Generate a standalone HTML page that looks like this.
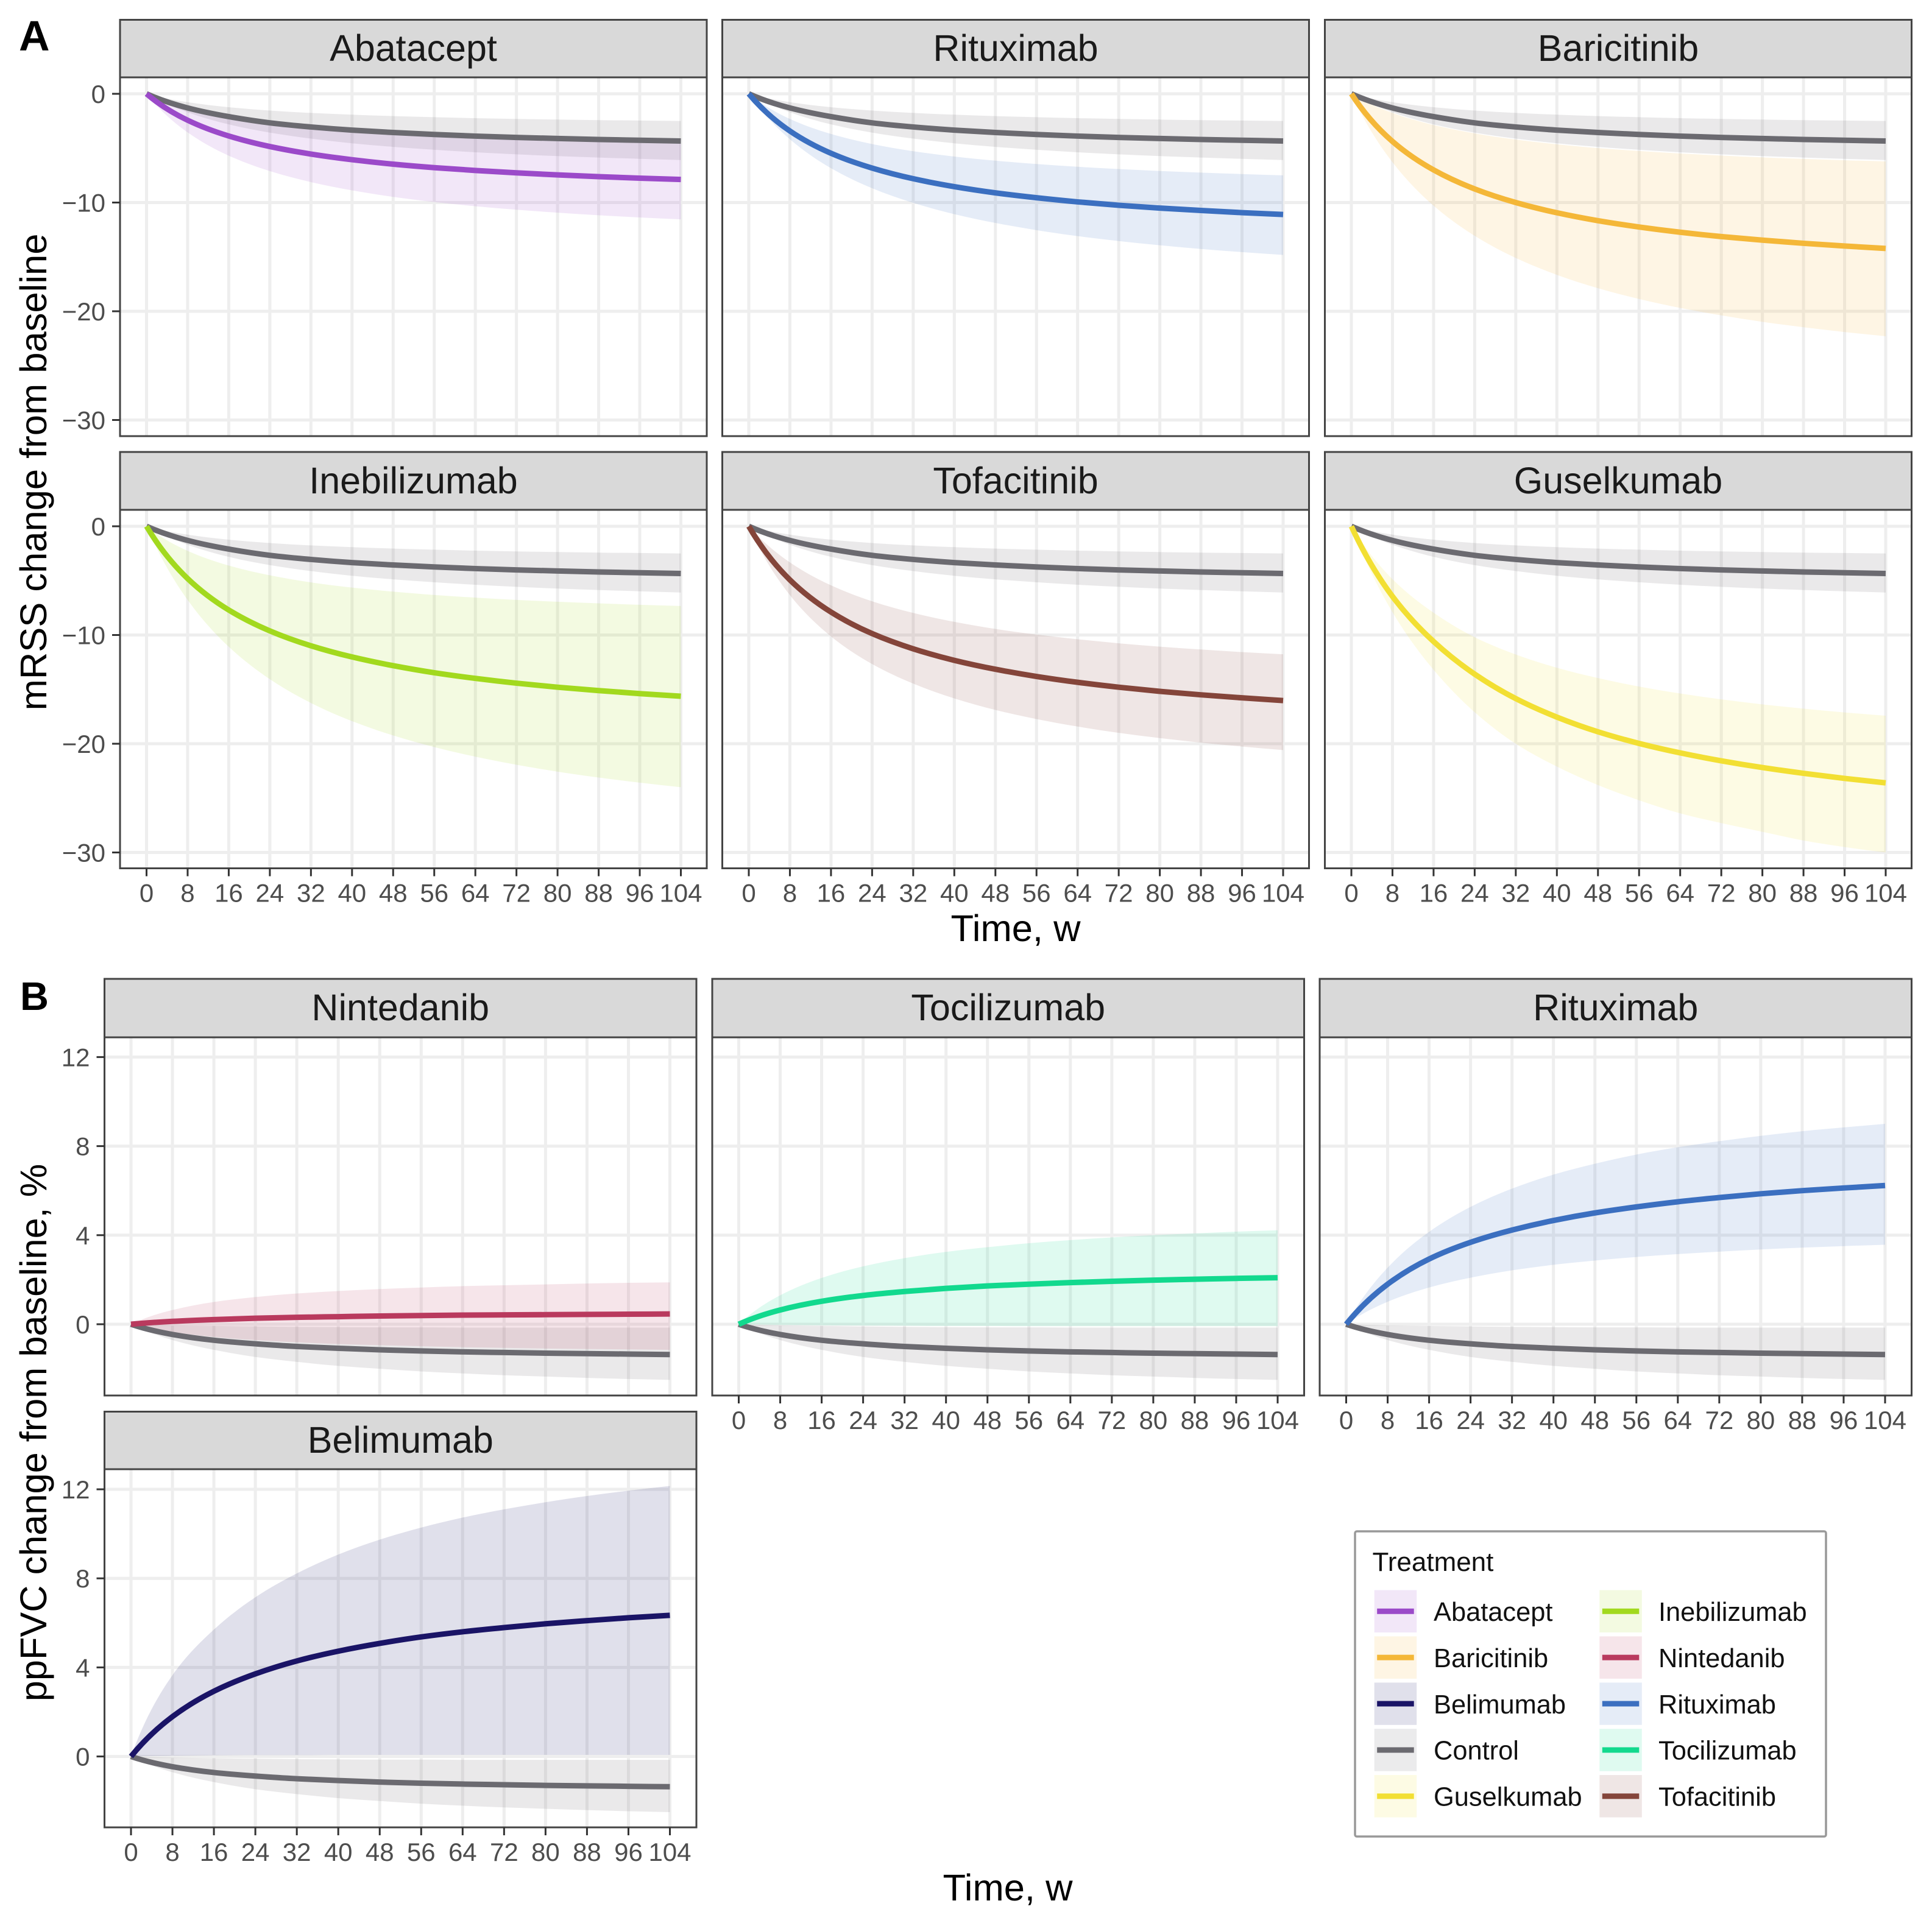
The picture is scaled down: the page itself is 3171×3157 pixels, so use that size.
<!DOCTYPE html>
<html lang="en">
<head>
<meta charset="utf-8">
<title>mRSS and ppFVC change from baseline</title>
<style>
html,body{margin:0;padding:0;background:#fff;}
svg{display:block;font-family:"Liberation Sans",Arial,sans-serif;}
</style>
</head>
<body>
<svg id="chart" xmlns="http://www.w3.org/2000/svg" width="3171" height="3157" viewBox="0 0 3171 3157">
<rect width="3171" height="3157" fill="#ffffff"/>
<text x="31" y="83" font-size="70" font-weight="700" fill="#000">A</text>
<text x="33" y="1658" font-size="65" font-weight="700" fill="#000">B</text>
<text transform="translate(76,775) rotate(-90)" text-anchor="middle" font-size="61.5" fill="#000">mRSS change from baseline</text>
<text transform="translate(76,2352) rotate(-90)" text-anchor="middle" font-size="61.3" fill="#000">ppFVC change from baseline, %</text>
<text x="1667" y="1545" text-anchor="middle" font-size="61.5" fill="#000">Time, w</text>
<text x="1654" y="3120" text-anchor="middle" font-size="61.5" fill="#000">Time, w</text>
</svg>
<script>
// ---------- shared axis data ----------
const weeks = [0, 8, 16, 24, 32, 40, 48, 56, 64, 72, 80, 88, 96, 104];
const mrssTicks = [0, -10, -20, -30];
const ppfvcTicks = [0, 4, 8, 12];

// ---------- mRSS series (change from baseline, read at each week tick) ----------
const controlMrssMean = [0, -1.3, -2.1, -2.67, -3.05, -3.34, -3.56, -3.74, -3.89, -4.01, -4.11, -4.2, -4.27, -4.34];
const controlMrssUpper = [0, -0.77, -1.23, -1.54, -1.76, -1.92, -2.05, -2.15, -2.24, -2.31, -2.37, -2.42, -2.46, -2.5];
const controlMrssLower = [0, -1.7, -2.81, -3.57, -4.12, -4.55, -4.88, -5.15, -5.38, -5.57, -5.73, -5.86, -5.98, -6.09];

const abataceptMean = [0, -2.43, -3.88, -4.85, -5.54, -6.06, -6.47, -6.79, -7.05, -7.27, -7.46, -7.62, -7.76, -7.88];
const abataceptUpper = [0, -1.29, -2.07, -2.59, -2.95, -3.23, -3.45, -3.62, -3.76, -3.88, -3.98, -4.06, -4.14, -4.2];
const abataceptLower = [0, -3.55, -5.69, -7.11, -8.12, -8.88, -9.48, -9.95, -10.34, -10.66, -10.93, -11.17, -11.37, -11.55];

const rituximabMrssMean = [0, -3.42, -5.47, -6.83, -7.81, -8.54, -9.11, -9.56, -9.94, -10.25, -10.51, -10.73, -10.93, -11.1];
const rituximabMrssUpper = [0, -2.31, -3.69, -4.62, -5.28, -5.77, -6.15, -6.46, -6.71, -6.92, -7.1, -7.25, -7.38, -7.5];
const rituximabMrssLower = [0, -4.18, -6.84, -8.68, -10.03, -11.07, -11.88, -12.54, -13.09, -13.54, -13.93, -14.27, -14.56, -14.82];

const baricitinibMean = [0, -4.38, -7.0, -8.75, -10.0, -10.94, -11.67, -12.25, -12.73, -13.13, -13.46, -13.75, -14.0, -14.22];
const baricitinibUpper = [0, -1.76, -2.87, -3.64, -4.21, -4.64, -4.99, -5.26, -5.49, -5.68, -5.85, -5.99, -6.11, -6.22];
const baricitinibLower = [0, -6.29, -10.29, -13.06, -15.1, -16.65, -17.88, -18.87, -19.69, -20.38, -20.97, -21.47, -21.91, -22.3];

const inebilizumabMean = [0, -4.81, -7.7, -9.62, -10.99, -12.02, -12.82, -13.47, -13.99, -14.43, -14.8, -15.11, -15.39, -15.63];
const inebilizumabUpper = [0, -2.26, -3.61, -4.51, -5.16, -5.64, -6.01, -6.32, -6.56, -6.77, -6.94, -7.09, -7.22, -7.33];
const inebilizumabLower = [0, -6.77, -11.08, -14.06, -16.25, -17.92, -19.24, -20.31, -21.19, -21.93, -22.57, -23.11, -23.58, -24.0];

const tofacitinibMean = [0, -4.93, -7.89, -9.87, -11.27, -12.33, -13.15, -13.81, -14.35, -14.8, -15.18, -15.5, -15.78, -16.03];
const tofacitinibUpper = [0, -3.32, -5.43, -6.9, -7.97, -8.79, -9.44, -9.96, -10.39, -10.76, -11.07, -11.33, -11.57, -11.77];
const tofacitinibLower = [0, -6.33, -10.13, -12.67, -14.47, -15.83, -16.89, -17.73, -18.42, -19.0, -19.48, -19.9, -20.26, -20.58];

const guselkumabMean = [0, -6.45, -10.6, -13.6, -15.85, -17.55, -18.9, -19.97, -20.84, -21.57, -22.19, -22.72, -23.19, -23.6];
const guselkumabUpper = [0, -4.86, -7.95, -10.2, -11.79, -13.01, -13.96, -14.74, -15.38, -15.92, -16.38, -16.77, -17.12, -17.42];
const guselkumabLower = [0, -7.9, -13.2, -17.1, -20.0, -22.1, -23.8, -25.2, -26.4, -27.3, -28.1, -28.9, -29.5, -30.0];

// ---------- ppFVC series (change from baseline, %, read at each week tick) ----------
const controlFvcMean = [0, -0.46, -0.72, -0.88, -1.0, -1.08, -1.15, -1.2, -1.24, -1.27, -1.3, -1.32, -1.34, -1.36];
const controlFvcUpper = [0, -0.05, -0.08, -0.1, -0.12, -0.13, -0.14, -0.14, -0.15, -0.15, -0.15, -0.15, -0.15, -0.15];
const controlFvcLower = [0, -0.71, -1.15, -1.47, -1.69, -1.87, -2.0, -2.12, -2.21, -2.29, -2.35, -2.41, -2.46, -2.5];

const nintedanibMean = [0, 0.13, 0.21, 0.27, 0.31, 0.34, 0.37, 0.39, 0.41, 0.42, 0.43, 0.44, 0.45, 0.46];
const nintedanibUpper = [0, 0.64, 1.0, 1.22, 1.38, 1.49, 1.58, 1.65, 1.71, 1.75, 1.79, 1.83, 1.86, 1.88];
const nintedanibLower = [0, -0.35, -0.57, -0.71, -0.81, -0.89, -0.94, -0.99, -1.03, -1.06, -1.09, -1.11, -1.13, -1.15];

const tocilizumabMean = [0, 0.64, 1.03, 1.29, 1.47, 1.61, 1.72, 1.8, 1.87, 1.93, 1.98, 2.02, 2.06, 2.09];
const tocilizumabUpper = [0, 1.3, 2.08, 2.6, 2.97, 3.25, 3.46, 3.64, 3.78, 3.9, 4.0, 4.08, 4.16, 4.22];
const tocilizumabLower = [0, -0.03, -0.05, -0.06, -0.07, -0.08, -0.08, -0.09, -0.09, -0.09, -0.09, -0.09, -0.09, -0.09];

const rituximabFvcMean = [0, 1.8, 2.93, 3.68, 4.23, 4.66, 5.0, 5.27, 5.5, 5.69, 5.86, 6.0, 6.12, 6.23];
const rituximabFvcUpper = [0, 2.54, 4.15, 5.27, 6.09, 6.72, 7.21, 7.62, 7.95, 8.22, 8.46, 8.67, 8.84, 9.0];
const rituximabFvcLower = [0, 1.01, 1.65, 2.09, 2.42, 2.67, 2.86, 3.02, 3.15, 3.26, 3.36, 3.44, 3.51, 3.57];

const belimumabMean = [0, 1.79, 2.93, 3.71, 4.29, 4.73, 5.08, 5.37, 5.6, 5.79, 5.96, 6.1, 6.23, 6.34];
const belimumabUpper = [0, 3.65, 5.7, 7.15, 8.22, 9.07, 9.74, 10.28, 10.73, 11.1, 11.42, 11.7, 11.94, 12.15];
const belimumabLower = [0, 0.03, 0.05, 0.06, 0.06, 0.07, 0.07, 0.07, 0.07, 0.07, 0.07, 0.07, 0.07, 0.07];

// ---------- legend entries ----------
const legendColumnOne = ["Abatacept", "Baricitinib", "Belimumab", "Control", "Guselkumab"];
const legendColumnTwo = ["Inebilizumab", "Nintedanib", "Rituximab", "Tocilizumab", "Tofacitinib"];

// ---------- styling and layout (not data) ----------
const treatmentColors = {
  Abatacept: "#9B4AC9", Baricitinib: "#F4B738", Belimumab: "#1A1466", Control: "#6B6A70",
  Guselkumab: "#F2DF33", Inebilizumab: "#A2D91E", Nintedanib: "#B93A5E", Rituximab: "#3B6FC0",
  Tocilizumab: "#12D98E", Tofacitinib: "#84453A"
};
const layoutA = { width: 963, x0: 43.5, x104: 920.5, unit: 17.85 };
const layoutB = { width: 971.5, x0: 43.5, x104: 928, unit: 36.55 };
const rowA1 = { stripTop: 32.5, stripBottom: 127, bottom: 716, zero: 154, textY: 100 };
const rowA2 = { stripTop: 742, stripBottom: 837, bottom: 1425.5, zero: 864, textY: 810 };
const rowB1 = { stripTop: 1607, stripBottom: 1703, bottom: 2291, zero: 2174, textY: 1675 };
const rowB2 = { stripTop: 2317.5, stripBottom: 2412, bottom: 3000, zero: 2883.6, textY: 2385 };

const controlMrss = { mean: controlMrssMean, upper: controlMrssUpper, lower: controlMrssLower };
const controlFvc = { mean: controlFvcMean, upper: controlFvcUpper, lower: controlFvcLower };

const panels = [
  { title: "Abatacept", treatment: "Abatacept", left: 197, row: rowA1, layout: layoutA, ticks: mrssTicks, showY: true, showX: false, control: controlMrss, mean: abataceptMean, upper: abataceptUpper, lower: abataceptLower },
  { title: "Rituximab", treatment: "Rituximab", left: 1185.5, row: rowA1, layout: layoutA, ticks: mrssTicks, showY: false, showX: false, control: controlMrss, mean: rituximabMrssMean, upper: rituximabMrssUpper, lower: rituximabMrssLower },
  { title: "Baricitinib", treatment: "Baricitinib", left: 2174.5, row: rowA1, layout: layoutA, ticks: mrssTicks, showY: false, showX: false, control: controlMrss, mean: baricitinibMean, upper: baricitinibUpper, lower: baricitinibLower },
  { title: "Inebilizumab", treatment: "Inebilizumab", left: 197, row: rowA2, layout: layoutA, ticks: mrssTicks, showY: true, showX: true, control: controlMrss, mean: inebilizumabMean, upper: inebilizumabUpper, lower: inebilizumabLower },
  { title: "Tofacitinib", treatment: "Tofacitinib", left: 1185.5, row: rowA2, layout: layoutA, ticks: mrssTicks, showY: false, showX: true, control: controlMrss, mean: tofacitinibMean, upper: tofacitinibUpper, lower: tofacitinibLower },
  { title: "Guselkumab", treatment: "Guselkumab", left: 2174.5, row: rowA2, layout: layoutA, ticks: mrssTicks, showY: false, showX: true, control: controlMrss, mean: guselkumabMean, upper: guselkumabUpper, lower: guselkumabLower },
  { title: "Nintedanib", treatment: "Nintedanib", left: 171.5, row: rowB1, layout: layoutB, ticks: ppfvcTicks, showY: true, showX: false, control: controlFvc, mean: nintedanibMean, upper: nintedanibUpper, lower: nintedanibLower },
  { title: "Tocilizumab", treatment: "Tocilizumab", left: 1169, row: rowB1, layout: layoutB, ticks: ppfvcTicks, showY: false, showX: true, control: controlFvc, mean: tocilizumabMean, upper: tocilizumabUpper, lower: tocilizumabLower },
  { title: "Rituximab", treatment: "Rituximab", left: 2166, row: rowB1, layout: layoutB, ticks: ppfvcTicks, showY: false, showX: true, control: controlFvc, mean: rituximabFvcMean, upper: rituximabFvcUpper, lower: rituximabFvcLower },
  { title: "Belimumab", treatment: "Belimumab", left: 171.5, row: rowB2, layout: layoutB, ticks: ppfvcTicks, showY: true, showX: true, control: controlFvc, mean: belimumabMean, upper: belimumabUpper, lower: belimumabLower }
];

// ---------- drawing ----------
const NS = "http://www.w3.org/2000/svg";
const svg = document.getElementById("chart");

function add(parent, tag, attrs, text) {
  const el = document.createElementNS(NS, tag);
  for (const k in attrs) el.setAttribute(k, attrs[k]);
  if (text !== undefined) el.textContent = text;
  parent.appendChild(el);
  return el;
}

function slug(s) {
  return String(s).toLowerCase().replace(/[^a-z0-9]+/g, "-");
}

// Harmonic-mean tangents keep saturating curves free of kinks near the origin.
function endTangent(dOuter, dInner, mInner) {
  if (mInner !== 0 && dOuter * mInner > 0) {
    const t = dOuter * dOuter / mInner;
    if (Math.abs(t) <= 3 * Math.abs(dOuter)) return t;
  }
  return 1.5 * dOuter - 0.5 * dInner;
}

function tangents(px, py) {
  const n = px.length, m = [];
  const d = [];
  for (let i = 0; i < n - 1; i++) d.push((py[i + 1] - py[i]) / (px[i + 1] - px[i]));
  for (let i = 1; i < n - 1; i++) {
    m[i] = d[i - 1] * d[i] > 0 ? 2 * d[i - 1] * d[i] / (d[i - 1] + d[i]) : 0;
  }
  m[0] = endTangent(d[0], d[1], m[1]);
  m[n - 1] = endTangent(d[n - 2], d[n - 3], m[n - 2]);
  return m;
}

function curveSegments(px, py, reverse) {
  const m = tangents(px, py);
  let out = "";
  if (!reverse) {
    for (let i = 0; i < px.length - 1; i++) {
      const h = (px[i + 1] - px[i]) / 3;
      out += "C" + (px[i] + h) + " " + (py[i] + m[i] * h) + " " + (px[i + 1] - h) + " " + (py[i + 1] - m[i + 1] * h) + " " + px[i + 1] + " " + py[i + 1];
    }
  } else {
    for (let i = px.length - 1; i > 0; i--) {
      const h = (px[i] - px[i - 1]) / 3;
      out += "C" + (px[i] - h) + " " + (py[i] - m[i] * h) + " " + (px[i - 1] + h) + " " + (py[i - 1] + m[i - 1] * h) + " " + px[i - 1] + " " + py[i - 1];
    }
  }
  return out;
}

function linePath(px, py) {
  return "M" + px[0] + " " + py[0] + curveSegments(px, py, false);
}

function bandPath(px, upY, loY) {
  const last = px.length - 1;
  return "M" + px[0] + " " + upY[0] + curveSegments(px, upY, false) +
    "L" + px[last] + " " + loY[last] + curveSegments(px, loY, true) + "Z";
}

function drawPanel(p) {
  const L = p.layout, R = p.row;
  const sx = function (w) { return p.left + L.x0 + (w / 104) * (L.x104 - L.x0); };
  const sy = function (v) { return R.zero - v * L.unit; };
  const base = slug(p.title) + "-" + slug(p.ticks === mrssTicks ? "mrss" : "ppfvc");

  const g = add(svg, "g", {});
  
  

  // horizontal grid lines
  p.ticks.forEach(function (t) {
    const gl = add(g, "line", { x1: p.left, x2: p.left + L.width, y1: sy(t), y2: sy(t), stroke: "#EEEEEE", "stroke-width": 5 });
    
    
  });
  // vertical grid lines
  weeks.forEach(function (w) {
    const gl = add(g, "line", { x1: sx(w), x2: sx(w), y1: R.stripBottom, y2: R.bottom, stroke: "#EEEEEE", "stroke-width": 5 });
    
    
  });

  const px = weeks.map(sx);

  const ctrlBand = add(g, "path", { d: bandPath(px, p.control.upper.map(sy), p.control.lower.map(sy)), fill: treatmentColors.Control, "fill-opacity": 0.145 });
  
  

  const trtBand = add(g, "path", { d: bandPath(px, p.upper.map(sy), p.lower.map(sy)), fill: treatmentColors[p.treatment], "fill-opacity": 0.135 });
  
  

  const ctrlLine = add(g, "path", { d: linePath(px, p.control.mean.map(sy)), fill: "none", stroke: treatmentColors.Control, "stroke-width": 9 });
  
  

  const trtLine = add(g, "path", { d: linePath(px, p.mean.map(sy)), fill: "none", stroke: treatmentColors[p.treatment], "stroke-width": 9 });
  
  

  // panel border
  const border = add(g, "rect", { x: p.left, y: R.stripBottom, width: L.width, height: R.bottom - R.stripBottom, fill: "none", stroke: "#444", "stroke-width": 3 });
  
  

  // strip
  const strip = add(g, "rect", { x: p.left, y: R.stripTop, width: L.width, height: R.stripBottom - R.stripTop, fill: "#D9D9D9", stroke: "#444", "stroke-width": 3 });
  
  

  const stripText = add(g, "text", { x: p.left + L.width / 2, y: R.textY, "text-anchor": "middle", "font-size": 61, fill: "#1A1A1A" }, p.title);
  
  

  // y axis
  if (p.showY) {
    p.ticks.forEach(function (t) {
      const tk = add(g, "line", { x1: p.left - 13, x2: p.left, y1: sy(t), y2: sy(t), stroke: "#333", "stroke-width": 3 });
      
      
      const lb = add(g, "text", { x: p.left - 24, y: sy(t) + 15, "text-anchor": "end", "font-size": 42, fill: "#4D4D4D" }, String(t).replace("-", "\u2212"));
      
      
    });
  }
  // x axis
  if (p.showX) {
    weeks.forEach(function (w) {
      const tk = add(g, "line", { x1: sx(w), x2: sx(w), y1: R.bottom, y2: R.bottom + 13, stroke: "#333", "stroke-width": 3 });
      
      
      const lb = add(g, "text", { x: sx(w), y: R.bottom + 55, "text-anchor": "middle", "font-size": 42, fill: "#4D4D4D" }, String(w));
      
      
    });
  }
}

panels.forEach(drawPanel);

// ---------- legend ----------
const legend = add(svg, "g", {});



const legendBox = add(legend, "rect", { x: 2224, y: 2514, width: 773, height: 501, rx: 3, fill: "#fff", stroke: "#999", "stroke-width": 3.5 });



const legendTitle = add(legend, "text", { x: 2252.5, y: 2579, "font-size": 44, fill: "#111" }, "Treatment");



function drawLegendColumn(names, keyLeft, textLeft) {
  names.forEach(function (name, i) {
    const top = 2610.5 + i * 75.9;
    const entry = add(legend, "g", {});
    
    
    const bg = add(entry, "rect", { x: keyLeft, y: top, width: 69.5, height: 69.5, fill: treatmentColors[name], "fill-opacity": 0.135 });
    
    
    const ln = add(entry, "line", { x1: keyLeft + 4.5, x2: keyLeft + 65, y1: top + 34.75, y2: top + 34.75, stroke: treatmentColors[name], "stroke-width": 9 });
    
    
    const tx = add(entry, "text", { x: textLeft, y: top + 50.5, "font-size": 43.4, fill: "#111" }, name);
    
    
  });
}
drawLegendColumn(legendColumnOne, 2255.7, 2353);
drawLegendColumn(legendColumnTwo, 2625.3, 2722);
</script>
</body>
</html>
